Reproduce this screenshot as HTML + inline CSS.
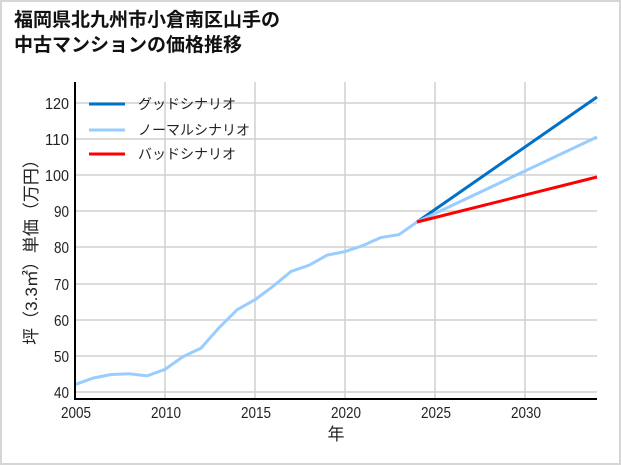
<!DOCTYPE html><html><head><meta charset="utf-8"><style>
body{margin:0;width:621px;height:465px;overflow:hidden;background:#fff}
.f{position:absolute;left:0;top:0;width:617px;height:461px;border:2px solid #d6d6d6}
.t{position:absolute;left:14px;top:8px;font:bold 19px/25px "Liberation Sans","Noto Sans CJK JP",sans-serif;color:#111}
svg{position:absolute;left:0;top:0}
text{font-family:"Liberation Sans","Noto Sans CJK JP",sans-serif;fill:#222}
.n{font-family:"Liberation Sans Narrow","Liberation Sans",sans-serif}
</style></head><body><div class="f"></div>
<div class="t">福岡県北九州市小倉南区山手の<br>中古マンションの価格推移</div>
<svg width="621" height="465">
<g stroke="#d0d0d0" stroke-width="1.5">
<line x1="165" y1="82" x2="165" y2="399"/><line x1="255" y1="82" x2="255" y2="399"/><line x1="345" y1="82" x2="345" y2="399"/><line x1="435" y1="82" x2="435" y2="399"/><line x1="525" y1="82" x2="525" y2="399"/>
<line x1="75" y1="392" x2="597" y2="392"/><line x1="75" y1="356" x2="597" y2="356"/><line x1="75" y1="320" x2="597" y2="320"/><line x1="75" y1="284" x2="597" y2="284"/><line x1="75" y1="247" x2="597" y2="247"/><line x1="75" y1="211" x2="597" y2="211"/><line x1="75" y1="175" x2="597" y2="175"/><line x1="75" y1="139" x2="597" y2="139"/><line x1="75" y1="103" x2="597" y2="103"/>
</g>
<g class="n" font-size="16" text-anchor="end"><text x="69" y="398" textLength="15" lengthAdjust="spacingAndGlyphs">40</text><text x="69" y="362" textLength="15" lengthAdjust="spacingAndGlyphs">50</text><text x="69" y="326" textLength="15" lengthAdjust="spacingAndGlyphs">60</text><text x="69" y="290" textLength="15" lengthAdjust="spacingAndGlyphs">70</text><text x="69" y="253" textLength="15" lengthAdjust="spacingAndGlyphs">80</text><text x="69" y="217" textLength="15" lengthAdjust="spacingAndGlyphs">90</text><text x="69" y="181" textLength="24" lengthAdjust="spacingAndGlyphs">100</text><text x="69" y="145" textLength="24" lengthAdjust="spacingAndGlyphs">110</text><text x="69" y="109" textLength="24" lengthAdjust="spacingAndGlyphs">120</text></g>
<g class="n" font-size="16" text-anchor="middle"><text x="76" y="418" textLength="30" lengthAdjust="spacingAndGlyphs">2005</text><text x="166" y="418" textLength="30" lengthAdjust="spacingAndGlyphs">2010</text><text x="256" y="418" textLength="30" lengthAdjust="spacingAndGlyphs">2015</text><text x="346" y="418" textLength="30" lengthAdjust="spacingAndGlyphs">2020</text><text x="436" y="418" textLength="30" lengthAdjust="spacingAndGlyphs">2025</text><text x="526" y="418" textLength="30" lengthAdjust="spacingAndGlyphs">2030</text></g>
<text x="336" y="440" font-size="17" text-anchor="middle">年</text>
<text transform="translate(37,248) rotate(-90)" font-size="17" text-anchor="middle">坪（3.3㎡）単価（万円）</text>
<polyline fill="none" stroke="#99ccff" stroke-width="3" points="75,384.6 93,378.1 111,374.5 129,373.8 147,375.9 165,369.4 183,356.7 201,348.1 219,327.8 237,309.8 255,299.7 273,286.3 291,271.5 309,265.3 327,255.2 345,251.6 363,245.5 381,237.5 399,234.6 417,222"/>
<line x1="417" y1="222" x2="597" y2="97" stroke="#0070c8" stroke-width="3"/>
<line x1="417" y1="222" x2="597" y2="137" stroke="#99ccff" stroke-width="3"/>
<line x1="417" y1="222" x2="597" y2="177" stroke="#ff0000" stroke-width="3"/>
<path d="M75,82V399H597" fill="none" stroke="#000" stroke-width="2"/>
<line x1="89" y1="104" x2="125" y2="104" stroke="#0070c8" stroke-width="3"/>
<line x1="89" y1="130" x2="125" y2="130" stroke="#99ccff" stroke-width="3"/>
<line x1="89" y1="154" x2="125" y2="154" stroke="#ff0000" stroke-width="3"/>
<g font-size="14"><text x="138" y="109">グッドシナリオ</text><text x="138" y="135">ノーマルシナリオ</text><text x="138" y="159">バッドシナリオ</text></g>
</svg></body></html>
